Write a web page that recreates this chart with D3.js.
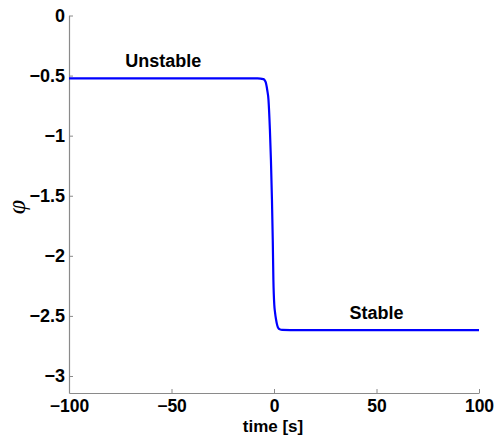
<!DOCTYPE html>
<html><head><meta charset="utf-8">
<script src="https://cdn.jsdelivr.net/npm/d3@7"></script>
<style>body{margin:0;background:#fff}svg{display:block}</style>
</head><body>
<script>
const time = [-100, -60, -20, -8, -5.2, -4.5, -4.1, -3.3, -2.7, -2.0, -1.5, -1.0, -0.6, -0.3, 0.15, 0.5, 1.0, 1.6, 2.2, 2.9, 4, 8, 20, 60, 100];
const phi  = [-0.5236, -0.5236, -0.5236, -0.5236, -0.53, -0.54, -0.553, -0.62, -0.70, -0.95, -1.20, -1.53, -1.87, -2.20, -2.41, -2.47, -2.53, -2.58, -2.604, -2.612, -2.617, -2.618, -2.618, -2.618, -2.618];
const xTicks = [-100, -50, 0, 50, 100];
const yTicks = [0, -0.5, -1, -1.5, -2, -2.5, -3];
const labels = [{text:"Unstable", t:-54, v:-0.426}, {text:"Stable", t:50, v:-2.525}];

const W = 497, H = 439;
const svg = d3.select("body").append("svg").attr("width", W).attr("height", H);
const x = d3.scaleLinear().domain([-100, 100]).range([69, 479]);
const y = d3.scaleLinear().domain([-Math.PI, 0]).range([393, 15.5]);
const fmt = d => d < 0 ? "\u2212" + Math.abs(d) : String(d);
const font = "'Liberation Sans', Arial, Helvetica, sans-serif";

const gx = svg.append("g").attr("transform", "translate(0,393)")
  .call(d3.axisBottom(x).tickValues(xTicks).tickSize(-4).tickSizeOuter(0).tickPadding(3).tickFormat(fmt));
const gy = svg.append("g").attr("transform", "translate(69,0)")
  .call(d3.axisLeft(y).tickValues(yTicks).tickSize(-4).tickSizeOuter(0).tickPadding(4).tickFormat(fmt));
[gx, gy].forEach(g => {
  g.select(".domain").attr("stroke", "#8a8a8a").attr("stroke-width", 1.2);
  g.selectAll(".tick line").attr("stroke", "#8a8a8a");
  g.selectAll(".tick text").attr("fill", "#000").attr("font-family", font).attr("font-weight", "bold").attr("font-size", 18);
});
gx.selectAll(".tick text").attr("dy", null).attr("y", 19).attr("font-size", 17.5);

svg.append("path").datum(time.map((t, i) => [t, phi[i]]))
  .attr("fill", "none").attr("stroke", "#0000ff").attr("stroke-width", 2.2)
  .attr("d", d3.line().x(d => x(d[0])).y(d => y(d[1])).curve(d3.curveMonotoneX));

svg.selectAll("text.lab").data(labels).enter().append("text").attr("class", "lab")
  .attr("x", d => x(d.t)).attr("y", d => y(d.v)).attr("text-anchor", "middle")
  .attr("font-family", font).attr("font-weight", "bold").attr("font-size", 18).text(d => d.text);

svg.append("text").attr("x", 273).attr("y", 431.5).attr("text-anchor", "middle")
  .attr("font-family", font).attr("font-weight", "bold").attr("font-size", 17).text("time [s]");

svg.append("text").attr("transform", "translate(25,207) rotate(-90)").attr("text-anchor", "middle")
  .attr("font-family", "'Liberation Serif', serif").attr("font-style", "italic").attr("font-size", 26).text("\u03C6");
</script>
</body></html>
